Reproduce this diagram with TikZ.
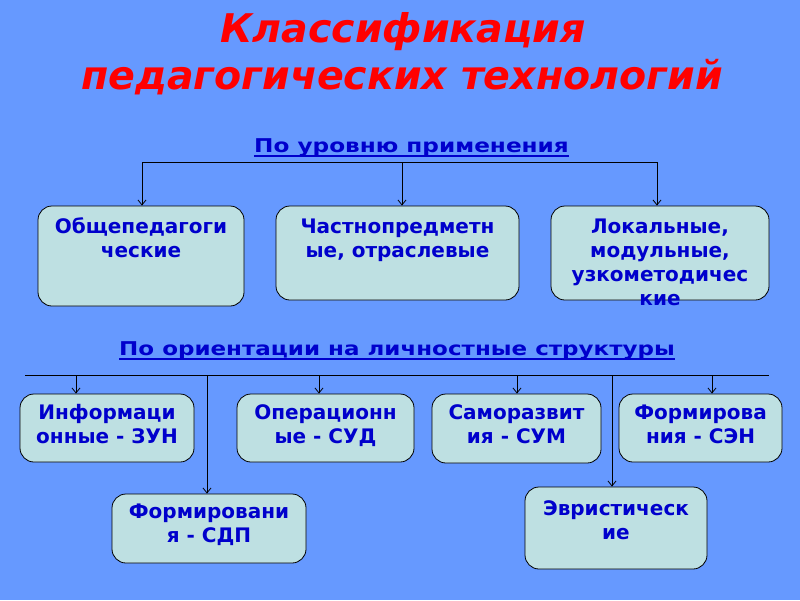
\documentclass[tikz,border=0pt]{standalone}
\usepackage{fontspec}
\setmainfont{DejaVu Sans}
\usetikzlibrary{arrows.meta}
\definecolor{bg}{RGB}{102,153,255}
\definecolor{boxfill}{RGB}{190,224,226}
\definecolor{txtblue}{RGB}{0,0,204}
\definecolor{titlered}{RGB}{255,0,0}
\tikzset{
  box/.style={draw=black, line width=0.8pt, fill=boxfill, rounded corners=14pt, inner sep=0pt},
  btxt/.style={font=\fontsize{20}{24}\selectfont\bfseries, text=txtblue, align=center, inner sep=0pt, anchor=base},
  sub/.style={font=\fontsize{19}{22}\selectfont\bfseries, text=txtblue, inner sep=0pt, anchor=base},
  uline/.style={draw=txtblue, line width=1.6pt},
  ttl/.style={font=\fontsize{39.5}{44}\selectfont\bfseries\itshape, text=titlered, inner sep=0pt, anchor=base},
  conn/.style={draw=black, line width=0.8pt},
  arr/.style={conn, -{Straight Barb[length=5pt,width=8pt]}},
}
\begin{document}
\begin{tikzpicture}[x=1pt,y=-1pt]
\fill[bg] (0,0) rectangle (800,600);
\useasboundingbox (0,0) rectangle (800,600);

% title
\node[ttl] (ttl1) at (403,42) {Классификация};
\node[ttl] (ttl2) at (402,89) {педагогических технологий};

% subtitle 1
\node[sub] (s1) at (411.5,152) {\scalebox{1.22}[1]{По уровню применения}};
\draw[uline] ([yshift=-4pt]s1.base west) -- ([yshift=-4pt]s1.base east);

% row 1 boxes
\node[box, minimum width=206pt, minimum height=100pt] (b1) at (141,256) {};
\node[box, minimum width=243pt, minimum height=94pt] (b2) at (397.5,253) {};
\node[box, minimum width=218pt, minimum height=94pt] (b3) at (660,253) {};
% anchor base = baseline of the last line
\node[btxt] (tb1) at (141,257) {Общепедагоги\\ческие};
\node[btxt] (tb2) at (397.5,257) {Частнопредметн\\ые, отраслевые};
\node[btxt] (tb3) at (660,305) {Локальные,\\модульные,\\узкометодичес\\кие};

% row 1 connectors
\coordinate (t1) at (142,162);
\coordinate (t2) at (402,162);
\coordinate (t3) at (657,162);
\draw[conn] (t1) -- (t3);
\draw[arr] (t1) -- (t1 |- b1.north);
\draw[arr] (t2) -- (t2 |- b2.north);
\draw[arr] (t3) -- (t3 |- b3.north);

% subtitle 2
\node[sub] (s2) at (397,355) {\scalebox{1.21}[1]{По ориентации на личностные структуры}};
\draw[uline] ([yshift=-4pt]s2.base west) -- ([yshift=-4pt]s2.base east);

% row 2 boxes
\node[box, minimum width=174pt, minimum height=68pt] (c1) at (107,428) {};
\node[box, minimum width=177pt, minimum height=68pt] (c2) at (325.5,428) {};
\node[box, minimum width=169pt, minimum height=69pt] (c3) at (516.5,428.5) {};
\node[box, minimum width=163pt, minimum height=68pt] (c4) at (700.5,428) {};
\node[btxt] (tc1) at (107,443) {Информаци\\онные - ЗУН};
\node[btxt] (tc2) at (325.5,443) {Операционн\\ые - СУД};
\node[btxt] (tc3) at (516.5,443) {Саморазвит\\ия - СУМ};
\node[btxt] (tc4) at (700.5,443) {Формирова\\ния - СЭН};

% row 3 boxes
\node[box, minimum width=194pt, minimum height=69pt] (d1) at (209,528.5) {};
\node[box, minimum width=182pt, minimum height=82pt] (d2) at (616,528) {};
\node[btxt] (td1) at (209,542) {Формировани\\я - СДП};
\node[btxt] (td2) at (616,539) {Эвристическ\\ие};

% row 2 connectors
\coordinate (u0) at (25,375);
\coordinate (u9) at (769,375);
\coordinate (ua) at (76,375);
\coordinate (ub) at (319,375);
\coordinate (uc) at (517,375);
\coordinate (ud) at (712,375);
\coordinate (ue) at (207,375);
\coordinate (uf) at (612,375);
\draw[conn] (u0) -- (u9);
\draw[arr] (ua) -- (ua |- c1.north);
\draw[arr] (ub) -- (ub |- c2.north);
\draw[arr] (uc) -- (uc |- c3.north);
\draw[arr] (ud) -- (ud |- c4.north);
\draw[arr] (ue) -- (ue |- d1.north);
\draw[arr] (uf) -- (uf |- d2.north);
\end{tikzpicture}
\end{document}
